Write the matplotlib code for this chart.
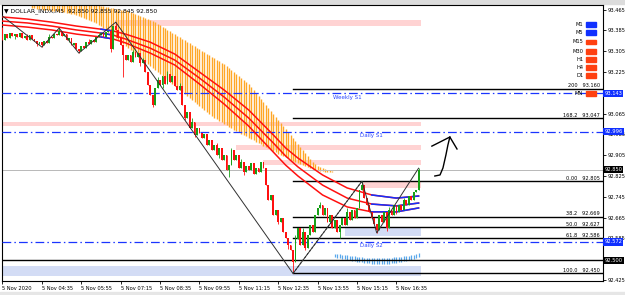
import matplotlib
matplotlib.use("Agg")
import matplotlib.pyplot as plt
from matplotlib.transforms import blended_transform_factory
from matplotlib.patches import Rectangle

plt.rcParams['font.family'] = ['DejaVu Sans']

# ---------------- data ----------------
closes = [93.348, 93.371, 93.356, 93.375, 93.363, 93.371, 93.360, 93.375, 93.356, 93.363, 93.348, 93.367, 93.352, 93.344, 93.333, 93.340, 93.329,
          93.344, 93.337, 93.360, 93.356, 93.371, 93.367, 93.383,
          93.363, 93.371, 93.348, 93.356, 93.329, 93.337, 93.313, 93.306,
          93.325, 93.317, 93.340, 93.333, 93.348, 93.340, 93.360, 93.367,
          93.375, 93.360, 93.379, 93.383, 93.313, 93.402,
          93.387, 93.356, 93.329, 93.290,
          93.271, 93.290, 93.263, 93.302, 93.283, 93.298,
          93.260, 93.271, 93.225, 93.175, 93.137,
          93.098,
          93.164, 93.194, 93.175, 93.210, 93.179, 93.217, 93.187, 93.210, 93.171,
          93.156, 93.171, 93.098, 93.048,
          93.071, 93.010, 93.033, 92.983, 93.010, 92.990,
          92.971, 92.987, 92.944, 92.964,
          92.925, 92.944, 92.906, 92.933, 92.887, 92.906, 92.848, 92.867,
          92.925, 92.887, 92.906, 92.856, 92.879, 92.840, 92.863, 92.848, 92.875, 92.833, 92.856, 92.840, 92.879,
          92.856, 92.790, 92.733, 92.752, 92.675, 92.694, 92.648,
          92.663, 92.610, 92.587, 92.560, 92.540, 92.494,
          92.583, 92.625, 92.560, 92.610, 92.548, 92.598, 92.637, 92.610, 92.675, 92.702,
          92.713, 92.675, 92.702, 92.648, 92.675, 92.625, 92.656, 92.610, 92.637, 92.663,
          92.637, 92.687, 92.656, 92.694, 92.663, 92.702,
          92.771, 92.790, 92.740, 92.713, 92.687, 92.663, 92.640, 92.617,
          92.675, 92.648, 92.687, 92.625, 92.694, 92.675, 92.713, 92.687, 92.713,
          92.694, 92.733, 92.713, 92.748, 92.733, 92.763, 92.771,
          92.850]
first_open = 93.394
wick_highs = {0: 93.398, 10: 93.371, 19: 93.371, 23: 93.394, 26: 93.367, 35: 93.352, 39: 93.375,
              44: 93.390, 46: 93.417, 53: 93.310, 57: 93.279, 63: 93.206, 67: 93.229, 72: 93.183,
              77: 93.048, 87: 92.952, 93: 92.933, 97: 92.890, 106: 92.879, 119: 92.598, 122: 92.625,
              127: 92.640, 129: 92.725, 140: 92.700, 146: 92.805, 157: 92.705, 163: 92.740, 169: 92.855}
wick_lows = {5: 93.352, 14: 93.325, 16: 93.321, 27: 93.340, 31: 93.298, 44: 93.302, 49: 93.206,
             56: 93.248, 61: 93.090, 65: 93.164, 74: 93.040, 78: 92.975, 88: 92.895, 92: 92.821,
             98: 92.830, 112: 92.640, 116: 92.545, 118: 92.450, 123: 92.540, 133: 92.660, 137: 92.587,
             144: 92.690, 152: 92.606, 156: 92.615, 160: 92.680}

# moving-average ribbon (knots)
ma_x = [0, 10, 20, 30, 40, 45, 50, 60, 70, 80, 90, 100, 110, 115, 120, 130, 140, 150, 160, 169]
ma_top = [93.437, 93.429, 93.417, 93.402, 93.390, 93.383, 93.371, 93.340, 93.294, 93.225, 93.156, 93.079,
          92.983, 92.933, 92.894, 92.829, 92.779, 92.752, 92.740, 92.748]
ma_mid = [93.421, 93.414, 93.402, 93.387, 93.375, 93.367, 93.352, 93.317, 93.271, 93.202, 93.129, 93.048,
          92.952, 92.902, 92.860, 92.790, 92.740, 92.717, 92.710, 92.721]
ma_bot = [93.406, 93.398, 93.387, 93.371, 93.360, 93.352, 93.337, 93.298, 93.252, 93.179, 93.102, 93.017,
          92.917, 92.867, 92.825, 92.752, 92.706, 92.687, 92.687, 92.702]

# orange band (bars 12..134)
band_start = 12
band_top = [93.483] * 28 + [
    93.479, 93.479, 93.475, 93.475, 93.471, 93.471, 93.467, 93.467, 93.464, 93.464,
    93.464, 93.460, 93.456, 93.452, 93.448, 93.444, 93.440, 93.437, 93.433, 93.429,
    93.425, 93.421, 93.417, 93.410, 93.406, 93.398, 93.394, 93.387, 93.383, 93.375,
    93.371, 93.363, 93.360, 93.352, 93.348, 93.340, 93.337, 93.329, 93.325, 93.317,
    93.313, 93.306, 93.302, 93.294, 93.290, 93.283, 93.279, 93.271, 93.267, 93.260,
    93.256, 93.248, 93.240, 93.233, 93.225, 93.217, 93.210, 93.202, 93.194, 93.187,
    93.179, 93.167, 93.156, 93.144, 93.133, 93.121, 93.110, 93.098, 93.087, 93.075,
    93.064, 93.052, 93.040, 93.029, 93.017, 93.006, 92.994, 92.983, 92.971, 92.960,
    92.948, 92.937, 92.925, 92.914, 92.902, 92.890, 92.879, 92.871, 92.863, 92.860,
    92.856, 92.852, 92.848, 92.848, 92.844]
band_bot = [
    93.471, 93.471, 93.467, 93.467, 93.467, 93.464, 93.464, 93.464, 93.460, 93.460, 93.460, 93.456, 93.456, 93.456,
    93.452, 93.452, 93.448, 93.448, 93.444, 93.440, 93.437, 93.433, 93.429, 93.425, 93.421, 93.417, 93.414, 93.406,
    93.402, 93.394, 93.387, 93.379, 93.371, 93.363, 93.356, 93.348, 93.340, 93.333,
    93.325, 93.317, 93.310, 93.302, 93.294, 93.287, 93.279, 93.271, 93.263, 93.256,
    93.248, 93.240, 93.233, 93.225, 93.217, 93.210, 93.202, 93.194, 93.187, 93.179,
    93.171, 93.164, 93.156, 93.148, 93.140, 93.133, 93.125, 93.117, 93.110, 93.102,
    93.094, 93.087, 93.079, 93.071, 93.064, 93.056, 93.048, 93.044, 93.037, 93.033,
    93.025, 93.021, 93.014, 93.010, 93.002, 92.998, 92.994, 92.987, 92.983, 92.979,
    92.971, 92.967, 92.964, 92.956, 92.952, 92.948, 92.940, 92.937, 92.933, 92.925,
    92.921, 92.917, 92.910, 92.906, 92.902, 92.898, 92.894, 92.887, 92.883, 92.879,
    92.875, 92.871, 92.867, 92.863, 92.860, 92.856, 92.852, 92.848, 92.848, 92.844,
    92.844, 92.840, 92.840, 92.840, 92.840]

# light-blue histogram (bars 135..169)
blue_start = 135
blue_top = [92.525, 92.525, 92.525, 92.521, 92.521, 92.521, 92.517, 92.517, 92.517, 92.513,
            92.513, 92.513, 92.510, 92.510, 92.510, 92.510, 92.510, 92.510, 92.510, 92.510,
            92.510, 92.510, 92.510, 92.510, 92.513, 92.513, 92.513, 92.513, 92.517, 92.517,
            92.517, 92.521, 92.521, 92.525, 92.529]
blue_bot = [92.513, 92.510, 92.510, 92.506, 92.506, 92.502, 92.502, 92.498, 92.498, 92.494,
            92.494, 92.494, 92.490, 92.490, 92.490, 92.487, 92.487, 92.487, 92.487, 92.487,
            92.487, 92.487, 92.487, 92.490, 92.490, 92.490, 92.494, 92.494, 92.498, 92.498,
            92.502, 92.502, 92.506, 92.510, 92.513]

# zones: (start bar, end bar, low, high)
pink_zones = [(45.7, 170, 93.402, 93.425), (0, 170, 93.017, 93.033), (95, 170, 92.925, 92.944),
              (106, 170, 92.867, 92.887), (146, 170, 92.779, 92.802)]
blue_zones = [(0, 170, 92.440, 92.479), (139, 170, 92.594, 92.629)]

# zigzag
zig_x = [-1, 16, 23, 31, 46, 118, 146, 152, 169]
zig_y = [93.448, 93.321, 93.394, 93.298, 93.417, 92.450, 92.805, 92.606, 92.855]

# fibonacci levels
fib_start = 118
fib_names = ["0.00", "38.2", "50.0", "61.8", "100.0", "168.2", "200"]
fib_prices = [92.805, 92.669, 92.627, 92.586, 92.450, 93.047, 93.160]

# support lines
sup_names = ["Weekly S1", "Daily S1", "Daily S2"]
sup_prices = [93.143, 92.996, 92.572]
sup_label_x = [140, 150, 150]
hline_price = 92.500
last_price = 92.850

yticks = [93.465, 93.385, 93.305, 93.225, 93.145, 93.065, 92.985, 92.905, 92.825, 92.745, 92.665, 92.585, 92.505, 92.425]
hidden_ticks = [93.145, 92.505]
xtick_pos = [0, 16, 32, 48, 64, 80, 96, 112, 128, 144, 160]
xtick_labels = ["5 Nov 2020", "5 Nov 04:35", "5 Nov 05:55", "5 Nov 07:15", "5 Nov 08:35", "5 Nov 09:55",
                "5 Nov 11:15", "5 Nov 12:35", "5 Nov 13:55", "5 Nov 15:15", "5 Nov 16:35"]

tf_names = ["M1", "M5", "M15", "M30", "H1", "H4", "D1", "MN"]
tf_colors = ["#1030FF", "#1030FF", "#FF4010", "#FF4010", "#FF4010", "#FF4010", "#FF4010", "#FF4010"]
tf_ypos = [0.931, 0.899, 0.866, 0.833, 0.804, 0.775, 0.743, 0.681]

# hand-drawn arrow (annotation)
arrow_x = [175.6, 177.7, 178.9, 180.1, 180.9, 181.7]
arrow_y = [92.825, 92.829, 92.856, 92.906, 92.944, 92.975]
head_x = [174.4, 181.7, 184.6]
head_y = [92.940, 92.975, 92.929]

# ---------------- figure ----------------
W, H = 625, 295
fig = plt.figure(figsize=(W / 100, H / 100), dpi=100)
fig.patch.set_facecolor("white")
fig.add_artist(Rectangle((0, 1 - 4 / H), 1, 4 / H, transform=fig.transFigure, color="#DCDCDC", zorder=0))
fig.add_artist(Rectangle((0, 0), 1, 3 / H, transform=fig.transFigure, color="#E6E6E6", zorder=0))

ax = fig.add_axes([2 / W, 14 / H, 601 / W, 276 / H])
ax.set_xlim(-0.2, 243.9)
ax.set_ylim(92.421, 93.483)
for s in ax.spines.values():
    s.set_linewidth(0.8)
    s.set_color("black")

# zones
for x0, x1, lo, hi in pink_zones:
    ax.add_patch(Rectangle((x0, lo), x1 - x0, hi - lo, color="#FFD3D3", lw=0, zorder=1))
for x0, x1, lo, hi in blue_zones:
    ax.add_patch(Rectangle((x0, lo), x1 - x0, hi - lo, color="#D3DCF5", lw=0, zorder=1))

# orange band
bx = list(range(band_start, band_start + len(band_top)))
ax.vlines(bx, band_bot, band_top, colors="#FFA726", lw=1.0, zorder=2)

# light blue histogram
lbx = list(range(blue_start, blue_start + len(blue_top)))
ax.vlines(lbx, blue_bot, blue_top, colors="#5AA8EC", lw=0.9, zorder=2)

# horizontal lines
ax.axhline(last_price, color="#B8B8B8", lw=0.7, zorder=2)
ax.axhline(hline_price, color="black", lw=1.0, zorder=3)
trans = blended_transform_factory(ax.transAxes, ax.transData)
for name, p, lx in zip(sup_names, sup_prices, sup_label_x):
    ax.axhline(p, color="#1A35FF", lw=0.9, ls=(0, (7, 2.5, 1.2, 2.5)), zorder=3)
    ax.text(lx, p - 0.006, name, color="#2A45FF", fontsize=4.0, ha="center", va="top", zorder=6)
xr = ax.get_xlim()[1]
for name, p in zip(fib_names, fib_prices):
    ax.plot([fib_start, xr], [p, p], color="black", lw=1.0, zorder=3)
    ax.text(0.995, p + 0.002, f"{name}   {p:.3f}", transform=trans, fontsize=3.6, ha="right", va="bottom", zorder=6)

# ribbon
def seg(xs, ys, lo, hi):
    px = [x for x in xs if lo <= x <= hi]
    py = [y for x, y in zip(xs, ys) if lo <= x <= hi]
    return px, py

for ys in (ma_top, ma_mid, ma_bot):
    ax.plot(ma_x, ys, color="#FF1010", lw=1.1, zorder=4)
    px, py = seg(ma_x, ys, 40, 45)
    ax.plot(px, py, color="#1030FF", lw=1.1, zorder=4)
    px, py = seg(ma_x, ys, 150, 169)
    ax.plot(px, py, color="#1030FF", lw=1.1, zorder=4)

# candles
opens = [first_open] + closes[:-1]
for i, (o, c) in enumerate(zip(opens, closes)):
    hi = max(wick_highs.get(i, max(o, c)), o, c)
    lo = min(wick_lows.get(i, min(o, c)), o, c)
    col = "#18A018" if c >= o else "#FF1010"
    ax.vlines(i, lo, hi, colors=col, lw=0.6, zorder=5)
    h = abs(c - o)
    if h < 0.0015:
        h = 0.0015
    ax.bar(i, h, bottom=min(o, c), width=0.75, color=col, lw=0, zorder=5)

# zigzag
ax.plot(zig_x, zig_y, color="#303030", lw=0.7, zorder=5)
ax.plot([zig_x[5], zig_x[6]], [zig_y[5], zig_y[6]], color="#303030", lw=0.7, ls=(0, (2, 2)), zorder=5)

# hand drawn arrow
ax.plot(arrow_x, arrow_y, color="black", lw=1.0, zorder=6, clip_on=False)
ax.plot(head_x, head_y, color="black", lw=1.0, zorder=6, clip_on=False)

# axes ticks
ax.yaxis.tick_right()
ax.set_yticks(yticks)
ax.set_yticklabels(["" if v in hidden_ticks else f"{v:.3f}" for v in yticks])
ax.tick_params(axis="y", labelsize=3.7, length=2, width=0.6, pad=1.2)
ax.set_xticks(xtick_pos)
ax.set_xticklabels(xtick_labels, ha="left")
ax.tick_params(axis="x", labelsize=3.7, length=2, width=0.6, pad=1.5)

# price boxes on right axis
boxes = [(93.143, "#1030FF"), (92.996, "#1030FF"), (92.850, "black"), (92.572, "#1030FF"), (92.500, "black")]
for p, col in boxes:
    ax.text(1.002, p, f"{p:.3f}", transform=trans, fontsize=3.7, color="white", ha="left", va="center",
            bbox=dict(boxstyle="square,pad=0.25", fc=col, ec="none"), zorder=10, clip_on=False)

# title
ax.text(0.004, 0.978, "\u25BC DOLLAR_INDX,M5  92.850 92.855 92.845 92.850", transform=ax.transAxes,
        fontsize=4.3, ha="left", va="center", zorder=8)

# timeframe legend
for n, c, y in zip(tf_names, tf_colors, tf_ypos):
    ax.text(0.967, y, n, transform=ax.transAxes, fontsize=3.7, ha="right", va="center", zorder=8)
    ax.add_patch(Rectangle((0.972, y - 0.009), 0.016, 0.018, transform=ax.transAxes, color=c, zorder=8))

fig.savefig("out.png", dpi=100)
